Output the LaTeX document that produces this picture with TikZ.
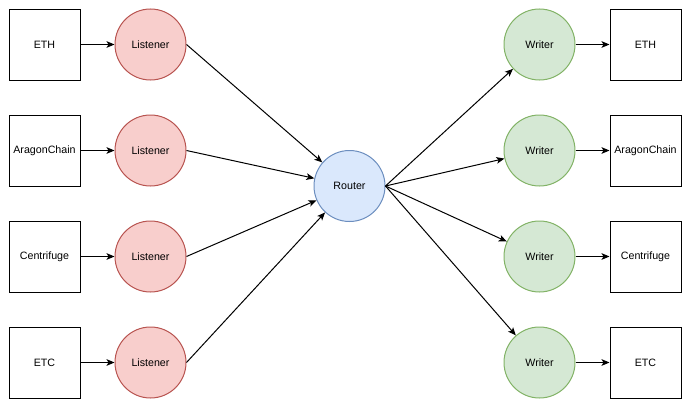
\documentclass[tikz,border=0pt]{standalone}
\usepackage{fontspec}
\setmainfont{Liberation Sans}
\usetikzlibrary{arrows.meta}
\definecolor{lfill}{HTML}{F8CECC}\definecolor{lline}{HTML}{B85450}
\definecolor{rfill}{HTML}{DAE8FC}\definecolor{rline}{HTML}{6C8EBF}
\definecolor{wfill}{HTML}{D5E8D4}\definecolor{wline}{HTML}{82B366}
\begin{document}
\begin{tikzpicture}[x=0.75pt,y=-0.75pt,
  every node/.style={font=\fontsize{8pt}{10pt}\selectfont, inner sep=0pt},
  chain/.style={draw=black, line width=0.75pt, minimum width=53.25pt, minimum height=53.25pt},
  lis/.style={circle, draw=lline, fill=lfill, line width=0.75pt, minimum size=53.25pt},
  rou/.style={circle, draw=rline, fill=rfill, line width=0.75pt, minimum size=53.25pt},
  wri/.style={circle, draw=wline, fill=wfill, line width=0.75pt, minimum size=53.25pt},
  arr/.style={-{Stealth[length=6pt,width=5pt,inset=1.5pt]}, line width=0.75pt, draw=black}]
\useasboundingbox (0,0) rectangle (690,407);
\node[chain] (c1) at (44.5,44.5) {ETH};
\node[chain] (c2) at (44.5,150.5) {AragonChain};
\node[chain] (c3) at (44.5,256.5) {Centrifuge};
\node[chain] (c4) at (44.5,362.5) {ETC};
\node[lis] (l1) at (150.5,44.5) {Listener};
\node[lis] (l2) at (150.5,150.5) {Listener};
\node[lis] (l3) at (150.5,256.5) {Listener};
\node[lis] (l4) at (150.5,362.5) {Listener};
\node[rou] (r) at (349.5,186) {Router};
\node[wri] (w1) at (539.5,44.5) {Writer};
\node[wri] (w2) at (539.5,150.5) {Writer};
\node[wri] (w3) at (539.5,256.5) {Writer};
\node[wri] (w4) at (539.5,362.5) {Writer};
\node[chain] (d1) at (645.5,44.5) {ETH};
\node[chain] (d2) at (645.5,150.5) {AragonChain};
\node[chain] (d3) at (645.5,256.5) {Centrifuge};
\node[chain] (d4) at (645.5,362.5) {ETC};
\foreach \i in {1,2,3,4}{
  \draw[arr] (c\i) -- (l\i);
  \draw[arr] (l\i.east) -- (r);
  \draw[arr] (r.east) -- (w\i);
  \draw[arr] (w\i) -- (d\i);
}
\end{tikzpicture}
\end{document}
